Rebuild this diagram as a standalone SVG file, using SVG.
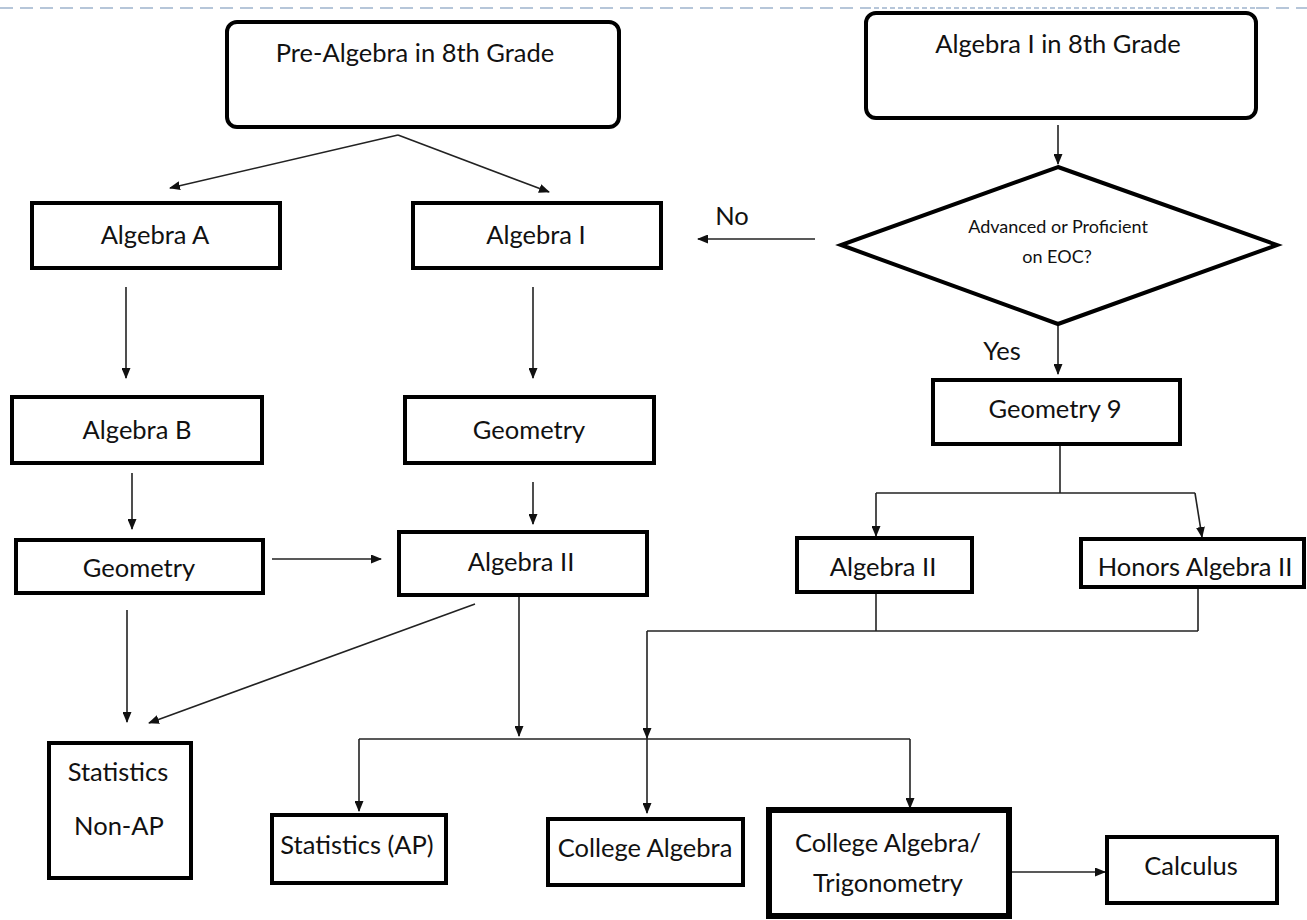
<svg xmlns="http://www.w3.org/2000/svg" width="1307" height="920" viewBox="0 0 1307 920">
  <defs>
    <marker id="arrow" markerUnits="userSpaceOnUse" markerWidth="11" markerHeight="9" refX="10" refY="4.5" orient="auto">
      <path d="M0,0 L11,4.5 L0,9 z" fill="#111"/>
    </marker>
    <style>
      .box { fill: #fff; stroke: #000; stroke-width: 4; }
      .thick { stroke-width: 6; }
      .lbl { font-family: Lato, "Liberation Sans", sans-serif; font-size: 25.5px; fill: #111; text-anchor: middle; }
      .small { font-size: 18px; }
      .conn { fill: none; stroke: #222; stroke-width: 1.6; }
      .arr { marker-end: url(#arrow); }
      .rule { stroke: #b6c6d9; stroke-width: 2.2; }
    </style>
  </defs>
  <rect width="1307" height="920" fill="#fff"/>

  <!-- page rule along the top -->
  <line class="rule" x1="0" y1="8" x2="866" y2="8" stroke-dasharray="13 7"/>
  <line class="rule" x1="866" y1="8" x2="1256" y2="8" stroke-dasharray="5 3" stroke="#a3b4c8"/>
  <line class="rule" x1="1256" y1="8" x2="1307" y2="8" stroke-dasharray="13 7"/>

  <!-- connectors -->
  <g id="connectors" class="conn">
    <line class="arr" x1="398" y1="135" x2="170" y2="188"/>
    <line class="arr" x1="398" y1="135" x2="549" y2="192"/>
    <line class="arr" x1="1058" y1="125" x2="1058" y2="164"/>
    <line class="arr" x1="815" y1="239" x2="698" y2="239"/>
    <line class="arr" x1="1058" y1="324" x2="1058" y2="374"/>
    <line class="arr" x1="126" y1="287" x2="126" y2="378"/>
    <line class="arr" x1="533" y1="287" x2="533" y2="378"/>
    <line class="arr" x1="132" y1="473" x2="132" y2="529"/>
    <line class="arr" x1="533" y1="482" x2="533" y2="524"/>
    <line class="arr" x1="272" y1="559" x2="381" y2="559"/>
    <line class="arr" x1="475" y1="604" x2="149" y2="723"/>
    <line class="arr" x1="127" y1="610" x2="127" y2="722"/>
    <line class="arr" x1="519" y1="597" x2="519" y2="736"/>
    <line x1="359" y1="739" x2="910" y2="739"/>
    <line class="arr" x1="359" y1="739" x2="359" y2="811"/>
    <line class="arr" x1="647" y1="631" x2="647" y2="738"/>
    <line class="arr" x1="647" y1="738" x2="647" y2="813"/>
    <line class="arr" x1="910" y1="739" x2="910" y2="808"/>
    <line x1="1060" y1="444" x2="1060" y2="493"/>
    <line x1="876" y1="493" x2="1195" y2="493"/>
    <line class="arr" x1="876" y1="493" x2="876" y2="536"/>
    <line class="arr" x1="1195" y1="493" x2="1202" y2="537"/>
    <line x1="876" y1="592" x2="876" y2="631"/>
    <line x1="1198" y1="587" x2="1198" y2="631"/>
    <line x1="647" y1="631" x2="1198" y2="631"/>
    <line class="arr" x1="1009" y1="872" x2="1105" y2="872"/>
  </g>

  <!-- branch labels -->
  <text class="lbl" x="732" y="225" font-size="23">No</text>
  <text class="lbl" x="1002" y="360" font-size="23">Yes</text>

  <g id="pre-algebra-8">
    <rect class="box" x="227" y="22" width="392" height="105" rx="10"/>
    <text class="lbl" x="415" y="62">Pre-Algebra in 8th Grade</text>
  </g>
  <g id="algebra1-8">
    <rect class="box" x="866" y="13" width="390" height="105" rx="10"/>
    <text class="lbl" x="1058" y="53">Algebra I in 8th Grade</text>
  </g>
  <g id="algebra-a">
    <rect class="box" x="32" y="203" width="248" height="65"/>
    <text class="lbl" x="155" y="244">Algebra A</text>
  </g>
  <g id="algebra-1">
    <rect class="box" x="413" y="203" width="248" height="65"/>
    <text class="lbl" x="536" y="244">Algebra I</text>
  </g>
  <g id="eoc-decision">
    <polygon class="box" points="1058,167 1277,245 1058,324 841,245"/>
    <text class="lbl small" x="1058" y="233">Advanced or Proficient</text>
    <text class="lbl small" x="1057" y="263">on EOC?</text>
  </g>
  <g id="algebra-b">
    <rect class="box" x="12" y="397" width="250" height="66"/>
    <text class="lbl" x="137" y="439">Algebra B</text>
  </g>
  <g id="geometry-mid">
    <rect class="box" x="405" y="397" width="249" height="66"/>
    <text class="lbl" x="529" y="439">Geometry</text>
  </g>
  <g id="geometry-9">
    <rect class="box" x="933" y="380" width="247" height="64"/>
    <text class="lbl" x="1055" y="418">Geometry 9</text>
  </g>
  <g id="geometry-left">
    <rect class="box" x="16" y="540" width="247" height="53"/>
    <text class="lbl" x="139" y="577">Geometry</text>
  </g>
  <g id="algebra-2-mid">
    <rect class="box" x="399" y="532" width="248" height="63"/>
    <text class="lbl" x="521" y="571">Algebra II</text>
  </g>
  <g id="algebra-2-right">
    <rect class="box" x="797" y="538" width="175" height="54"/>
    <text class="lbl" x="883" y="576">Algebra II</text>
  </g>
  <g id="honors-algebra-2">
    <rect class="box" x="1081" y="539" width="223" height="48"/>
    <text class="lbl" x="1195" y="576">Honors Algebra II</text>
  </g>
  <g id="statistics-non-ap">
    <rect class="box" x="49" y="743" width="142" height="135"/>
    <text class="lbl" x="118" y="781">Statistics</text>
    <text class="lbl" x="119" y="835">Non-AP</text>
  </g>
  <g id="statistics-ap">
    <rect class="box" x="272" y="815" width="174" height="68"/>
    <text class="lbl" x="357" y="854">Statistics (AP)</text>
  </g>
  <g id="college-algebra">
    <rect class="box" x="548" y="819" width="195" height="66"/>
    <text class="lbl" x="645" y="857">College Algebra</text>
  </g>
  <g id="college-algebra-trig">
    <rect class="box thick" x="769" y="810" width="240" height="106"/>
    <text class="lbl" x="888" y="852">College Algebra/</text>
    <text class="lbl" x="888" y="892">Trigonometry</text>
  </g>
  <g id="calculus">
    <rect class="box" x="1107" y="837" width="170" height="66"/>
    <text class="lbl" x="1191" y="875">Calculus</text>
  </g>
</svg>
